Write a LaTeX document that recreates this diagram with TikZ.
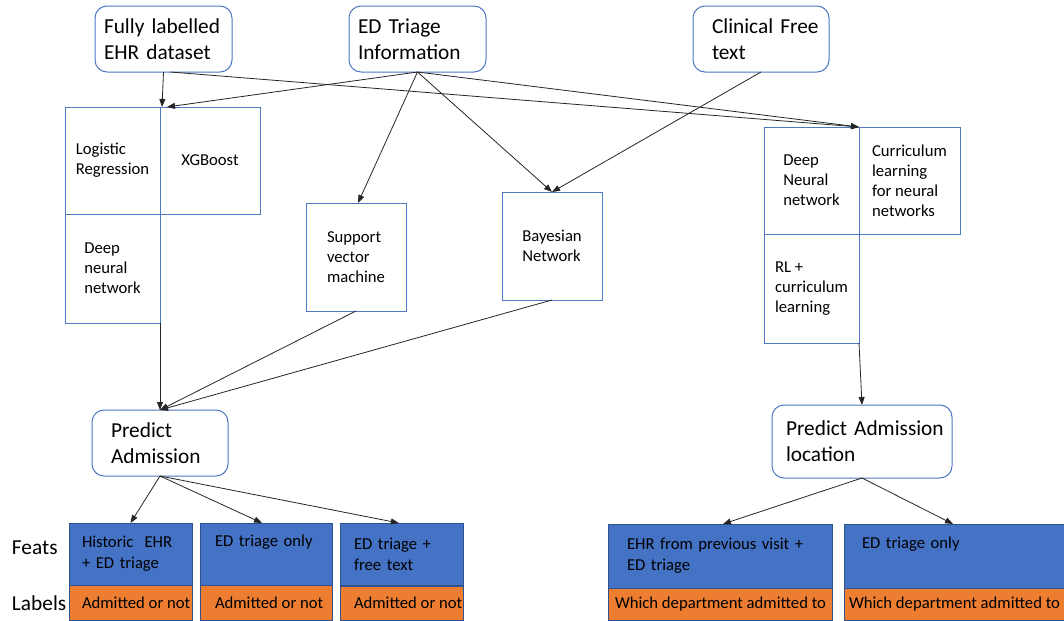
\documentclass[tikz,border=0pt]{standalone}
\usepackage{fontspec}
\setmainfont{Carlito}
\usetikzlibrary{arrows.meta}
\definecolor{featblue}{HTML}{4472C4}
\definecolor{labelorange}{HTML}{ED7D31}
\definecolor{edgeblue}{HTML}{2F528F}
\definecolor{outlineblue}{HTML}{4F78C2}
\begin{document}
\begin{tikzpicture}[x=0.75pt,y=-0.75pt,
  every node/.style={outer sep=0pt},
  px/.style 2 args={minimum width=#1*0.75pt, minimum height=#2*0.75pt},
  srcbox/.style={draw=outlineblue, line width=0.75pt, rounded corners=9pt, fill=white,
    align=left, anchor=north west, font=\fontsize{16}{19.5}\selectfont},
  modelbox/.style={draw=outlineblue, line width=0.75pt, fill=white,
    align=left, anchor=north west, font=\fontsize{12.5}{15}\selectfont},
  featbox/.style={draw=edgeblue, fill=featblue, line width=0.75pt,
    align=left, anchor=north west, font=\fontsize{12.5}{15.75}\selectfont},
  labelbox/.style={draw=edgeblue, fill=labelorange, line width=0.75pt,
    anchor=north west, inner ysep=0pt, font=\fontsize{12.5}{15}\selectfont},
  rowlabel/.style={anchor=west, inner sep=0pt, font=\fontsize{16}{19.5}\selectfont},
  conn/.style={-{Triangle[length=6pt,width=4.5pt]}, line width=0.6pt, black!85},
]
\path[use as bounding box, fill=white] (0,0) rectangle (1064,621);
\clip (0,0) rectangle (1064,621);

% data sources
\node[srcbox, px={137}{66}, text width=89.25pt, inner xsep=6.75pt] (fl) at (95,6) {Fully labelled\\EHR dataset};
\node[srcbox, px={137}{66}, text width=89.25pt, inner xsep=6.75pt] (ed) at (349,6) {ED Triage\\Information};
\node[srcbox, px={136}{66}, text width=73.5pt, inner xsep=14.25pt] (cf) at (693,6) {\mbox{Clinical Free}\\text};

% models for admission prediction
\node[modelbox, px={95}{107}] (lr) at (65,107) {Logistic\\Regression};
\node[modelbox, px={100}{107}] (xgb) at (160,107) {XGBoost};
\node[modelbox, px={95}{109}] (dnn) at (65,214) {Deep\\neural\\network};
\node[modelbox, px={100}{108}] (svm) at (306,203) {Support\\vector\\machine};
\node[modelbox, px={100}{108}] (bn) at (502,192) {Bayesian\\Network};

% models for admission location
\node[modelbox, px={95}{107}] (dnnr) at (764,127) {Deep\\Neural\\network};
\node[modelbox, px={101}{107}] (cl) at (859,127) {Curriculum\\learning\\for neural\\networks};
\node[modelbox, px={95}{109}] (rl) at (764,234) {RL +\\curriculum\\learning};

% tasks
\node[srcbox, px={136}{66}, text width=73.5pt, inner xsep=14.25pt] (pa) at (92,410) {Predict\\Admission};
\node[srcbox, px={180}{73}, text width=114pt, inner xsep=10.5pt] (pal) at (772,405) {\mbox{Predict Admission}\\location};

% feature sets
\node[featbox, px={123}{62}, text width=72.75pt, inner xsep=9.75pt] (f1) at (69,523) {Historic\ \ EHR\\+ ED triage};
\node[featbox, px={132}{62}, text width=76.5pt, inner xsep=11.25pt] (f2) at (200,523) {ED triage only\\\strut};
\node[featbox, px={123}{62}, text width=71.25pt, inner xsep=10.5pt] (f3) at (340,523) {ED triage +\\free text};
\node[featbox, px={224}{64}, text width=139.5pt, inner xsep=14.25pt] (f4) at (608,524) {EHR from previous visit +\\ED triage};
\node[featbox, px={226}{64}, text width=142.5pt, inner xsep=13.5pt] (f5) at (844,524) {ED triage only\\\strut};

% label definitions
\node[labelbox, px={123}{35}, inner xsep=9.75pt] (l1) at (69,585) {\makebox[72.75pt][l]{Admitted or not}};
\node[labelbox, px={132}{35}, inner xsep=11.25pt] (l2) at (200,585) {\makebox[76.5pt][l]{Admitted or not}};
\node[labelbox, px={123}{34}, inner xsep=10.5pt] (l3) at (340,586) {\makebox[71.25pt][l]{Admitted or not}};
\node[labelbox, px={224}{32}, inner xsep=5.25pt] (l4) at (608,588) {\makebox[157.5pt][l]{Which department admitted to}};
\node[labelbox, px={226}{32}, inner xsep=3.75pt] (l5) at (844,588) {\makebox[162pt][l]{Which department admitted to}};

\node[rowlabel] (feats) at (12,548) {Feats};
\node[rowlabel] (labels) at (12,603) {Labels};

% connectors
\draw[conn] (fl.south) -- ([xshift=1.5pt]lr.north east);
\draw[conn] ([xshift=5.25pt]fl.south) -- (cl.north west);
\draw[conn] (ed.south) -- ([xshift=5.25pt]lr.north east);
\draw[conn] (ed.south) -- ([xshift=1.5pt]svm.north);
\draw[conn] (ed.south) -- (bn.north);
\draw[conn] (ed.south) -- (cl.north west);
\draw[conn] (cf.south) -- (bn.north);

\draw[conn] (dnn.south east) -- (pa.north);
\draw[conn] (svm.south) -- (pa.north);
\draw[conn] (bn.south) -- (pa.north);
\draw[conn] (rl.south east) -- (pal.north);

\draw[conn] (pa.south) -- (f1.north);
\draw[conn] (pa.south) -- ([xshift=-3pt]f2.north);
\draw[conn] (pa.south) -- ([xshift=-2pt]f3.north);
\draw[conn] (pal.south) -- ([xshift=2.25pt]f4.north);
\draw[conn] (pal.south) -- ([xshift=81.75pt]f5.north west);
\end{tikzpicture}
\end{document}
